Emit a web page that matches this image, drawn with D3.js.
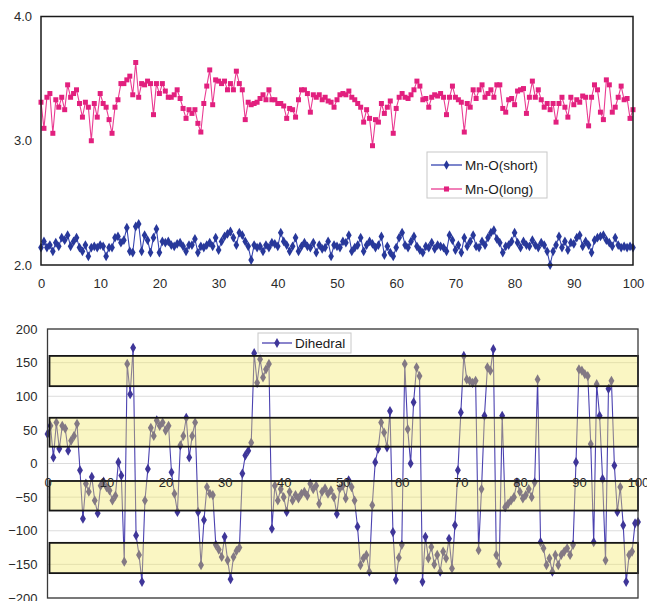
<!DOCTYPE html>
<html>
<head>
<meta charset="utf-8">
<script src="https://cdn.jsdelivr.net/npm/d3@7"></script>
<style>
  html, body { margin: 0; padding: 0; background: #fff; }
  svg { display: block; }
  text { font-family: "Liberation Sans", Arial, sans-serif; }
</style>
</head>
<body>
<svg id="chart" width="647" height="601"></svg>
<script>
// ---------------- data ----------------
const xTicks = [0, 10, 20, 30, 40, 50, 60, 70, 80, 90, 100];
const topYTicks = [2.0, 3.0, 4.0];
const botYTicks = [-200, -150, -100, -50, 0, 50, 100, 150, 200];
const seriesNames = ["Mn-O(short)", "Mn-O(long)"];
const dihedralName = "Dihedral";

const mnoShort = [
  2.14,2.19,2.14,2.16,2.11,2.18,2.15,2.22,2.20,2.24,
  2.15,2.19,2.22,2.14,2.11,2.16,2.07,2.14,2.15,2.14,
  2.16,2.15,2.07,2.14,2.14,2.22,2.23,2.18,2.20,2.30,
  2.11,2.10,2.31,2.33,2.11,2.24,2.20,2.10,2.22,2.29,
  2.10,2.19,2.18,2.19,2.16,2.15,2.17,2.18,2.15,2.11,
  2.16,2.16,2.21,2.10,2.15,2.14,2.16,2.18,2.15,2.22,
  2.12,2.19,2.23,2.25,2.27,2.22,2.16,2.26,2.24,2.19,
  2.15,2.04,2.16,2.14,2.15,2.11,2.16,2.14,2.18,2.17,
  2.15,2.26,2.19,2.16,2.11,2.15,2.22,2.11,2.15,2.18,
  2.15,2.14,2.18,2.10,2.16,2.13,2.14,2.19,2.07,2.16,
  2.15,2.14,
  2.19,2.18,2.24,2.11,2.14,2.16,2.22,2.11,2.16,2.19,2.17,
  2.14,2.16,2.23,2.08,2.15,2.10,2.07,2.14,2.22,2.26,
  2.16,2.14,2.19,2.23,2.15,2.12,2.10,2.15,2.14,2.18,2.13,
  2.16,2.15,2.14,2.11,2.24,2.20,2.12,2.16,2.10,2.22,
  2.15,2.19,2.24,2.15,2.14,2.19,2.16,2.22,2.26,2.28,2.21,
  2.18,2.10,2.15,2.16,2.19,2.26,2.18,2.14,2.19,2.16,
  2.15,2.20,2.16,2.14,2.18,2.16,2.11,2.00,2.11,2.16,
  2.23,2.14,2.19,2.12,2.18,2.17,
  2.22,2.24,2.15,2.19,2.16,2.10,2.20,2.22,2.23,2.24,2.20,
  2.18,2.15,2.22,2.16,2.14,2.15,
  2.14,2.15,2.14
];

const mnoLong = [
  3.31,3.10,3.35,3.38,3.06,3.33,3.27,3.35,3.25,3.45,
  3.35,3.38,3.41,3.30,3.19,3.31,3.27,3.00,3.30,3.19,
  3.38,3.30,3.27,3.17,3.06,3.27,3.33,3.46,3.46,3.49,
  3.52,3.37,3.63,3.35,3.46,3.45,3.48,3.46,3.21,3.46,
  3.38,3.46,3.40,3.35,3.35,3.37,3.41,3.34,3.26,3.18,
  3.25,3.22,3.25,3.14,3.07,3.30,3.44,3.57,3.29,3.49,
  3.48,3.46,3.48,3.41,3.46,3.41,3.56,3.46,3.41,3.17,
  3.31,3.29,3.30,3.31,3.34,3.37,3.33,3.41,3.33,3.33,
  3.30,3.30,3.28,3.18,3.26,3.25,3.19,3.33,3.41,3.41,
  3.38,3.23,3.37,3.35,3.37,3.33,3.35,3.32,3.31,3.27,
  3.33,3.37,
  3.38,3.37,3.40,3.35,3.33,3.30,3.27,3.15,3.25,3.18,
  2.96,3.17,3.15,3.30,3.22,3.27,3.32,3.06,3.26,3.35,
  3.38,3.35,3.34,3.37,3.41,3.48,3.44,3.33,3.34,3.27,
  3.35,3.37,3.36,3.38,3.35,3.21,3.35,3.44,3.35,3.33,
  3.31,3.07,3.30,3.27,3.41,3.34,3.41,3.45,3.35,3.38,
  3.41,3.35,3.45,3.45,3.26,3.23,3.33,3.34,3.29,3.40,
  3.41,3.42,3.22,3.35,3.48,3.35,3.41,3.33,3.27,3.30,
  3.25,3.30,3.15,3.30,3.35,3.27,3.19,3.35,3.29,3.33,
  3.31,3.36,3.35,3.12,3.35,3.45,3.41,3.23,3.17,3.49,
  3.45,3.23,3.27,3.35,3.44,3.33,3.34,3.18,3.25
];

const dihedral = [
  44,56,9,61,22,56,52,19,34,41,59,-10,
  -82,-30,-42,-20,-55,-74,-33,-27,-35,-40,-55,-48,
  2,-18,-146,148,103,172,-107,-136,-176,-55,-8,53,
  41,64,56,61,49,56,-13,-45,-72,27,41,68,9,41,61,
  -72,-151,-84,-35,-45,-47,-121,-128,-139,-109,-144,-172,-139,-130,-125,
  -15,12,19,31,164,120,155,128,140,148,-97,
  -33,-55,-38,-50,-72,-42,-55,-47,-52,-45,-42,-48,-30,-38,
  -33,-60,-42,-37,-45,-40,-50,-75,-37,-33,-52,-25,-35,-55,
  -94,-151,-141,-136,-161,-62,2,22,61,46,24,78,-102,-173,-140,-121,
  148,51,0,91,143,130,-176,-109,-141,-124,
  -150,-136,-161,-131,-141,-112,-156,-92,-10,76,160,125,123,120,123,
  -129,-38,71,143,138,170,-136,-149,71,
  -65,-60,-55,-50,-28,-42,-52,-47,-38,-50,-28,
  125,-117,-126,-151,-141,-161,-136,-151,-136,-131,-126,-136,-121,
  2,140,138,133,130,29,-117,118,71,-23,-144,111,123,-3,-72,-35,-92,
  -176,-136,-131,-89,-87
];

const bandRanges = [[115, 160], [25, 68], [-70, -26], [-163, -118]];

// ---------------- drawing ----------------
const svg = d3.select("#chart");
const toPts = arr => arr.map((v, i) => ({ x: i * 100 / (arr.length - 1), y: v }));

const fontSize = 13;
const labelColor = "#2a2a2a";

// ===== Top chart =====
const tx = d3.scaleLinear().domain([0, 100]).range([41, 633]);
const ty = d3.scaleLinear().domain([2, 4]).range([265, 16.5]);
const topG = svg.append("g");

const topColors = { short: "#28389a", shortLine: "#3545b0", long: "#e2207e", longLine: "#ea3c92" };

function drawSeries(g, xs, ys, data, lineColor, markColor, symbol, size) {
  const pts = toPts(data);
  const line = d3.line().x(d => xs(d.x)).y(d => ys(d.y));
  g.append("path").datum(pts).attr("d", line)
    .attr("fill", "none").attr("stroke", lineColor).attr("stroke-width", 1.1);
  g.append("g").selectAll("path").data(pts).join("path")
    .attr("d", d3.symbol().type(symbol).size(size))
    .attr("transform", d => `translate(${xs(d.x)},${ys(d.y)})`)
    .attr("fill", markColor);
}

drawSeries(topG, tx, ty, mnoLong, topColors.longLine, topColors.long, d3.symbolSquare, 25);
drawSeries(topG, tx, ty, mnoShort, topColors.shortLine, topColors.short, d3.symbolDiamond, 28);

topG.append("rect")
  .attr("x", tx(0)).attr("y", ty(4))
  .attr("width", tx(100) - tx(0)).attr("height", ty(2) - ty(4))
  .attr("fill", "none").attr("stroke", "#1a1a1a").attr("stroke-width", 1.5);

const topYAxis = topG.append("g").attr("transform", `translate(${tx(0)},0)`)
  .call(d3.axisLeft(ty).tickValues(topYTicks).tickFormat(d3.format(".1f")).tickSize(0).tickPadding(9));
const topXAxis = topG.append("g").attr("transform", `translate(0,${ty(2)})`)
  .call(d3.axisBottom(tx).tickValues(xTicks).tickFormat(d3.format("d")).tickSize(0).tickPadding(14));
[topYAxis, topXAxis].forEach(a => {
  a.select(".domain").remove();
  a.selectAll("text").attr("font-size", fontSize).attr("fill", labelColor)
    .attr("font-family", "Liberation Sans, Arial, sans-serif");
});

// top legend
const lg = topG.append("g");
lg.append("rect").attr("x", 427).attr("y", 152).attr("width", 120).attr("height", 46)
  .attr("fill", "#fff").attr("stroke", "#c8c8c8").attr("stroke-width", 1);
const legItems = [
  { name: seriesNames[0], line: topColors.shortLine, mark: topColors.short, sym: d3.symbolDiamond, y: 165 },
  { name: seriesNames[1], line: topColors.longLine, mark: topColors.long, sym: d3.symbolSquare, y: 189 }
];
legItems.forEach(it => {
  lg.append("line").attr("x1", 431).attr("x2", 462).attr("y1", it.y).attr("y2", it.y)
    .attr("stroke", it.line).attr("stroke-width", 1.3);
  lg.append("path").attr("d", d3.symbol().type(it.sym).size(26)())
    .attr("transform", `translate(446.5,${it.y})`).attr("fill", it.mark);
  lg.append("text").attr("x", 465).attr("y", it.y + 5).attr("font-size", 13.5)
    .attr("fill", "#1a1a1a").text(it.name);
});

// ===== Bottom chart =====
const bx = d3.scaleLinear().domain([0, 100]).range([47.5, 638]);
const by = d3.scaleLinear().domain([-200, 200]).range([598, 329]);
const botG = svg.append("g");

botG.append("g").selectAll("line").data(botYTicks).join("line")
  .attr("x1", bx(0)).attr("x2", bx(100)).attr("y1", d => by(d)).attr("y2", d => by(d))
  .attr("stroke", "#dcdcdc").attr("stroke-width", 1);

drawSeries(botG, bx, by, dihedral, "#4b42b0", "#3f3699", d3.symbolDiamond, 30);

// bands on top (semi-transparent)
botG.append("g").selectAll("rect").data(bandRanges).join("rect")
  .attr("x", bx(0) + 2).attr("width", bx(100) - bx(0) - 2)
  .attr("y", d => by(d[1])).attr("height", d => by(d[0]) - by(d[1]))
  .attr("fill", "#f2e860").attr("fill-opacity", 0.38)
  .attr("stroke", "#151515").attr("stroke-width", 1.8);

botG.append("rect")
  .attr("x", bx(0)).attr("y", by(200))
  .attr("width", bx(100) - bx(0)).attr("height", by(-200) - by(200))
  .attr("fill", "none").attr("stroke", "#3a3a3a").attr("stroke-width", 1.3);

const botYAxis = botG.append("g").attr("transform", `translate(${bx(0)},0)`)
  .call(d3.axisLeft(by).tickValues(botYTicks).tickFormat(d3.format("d")).tickSize(0).tickPadding(10));
const botXAxis = botG.append("g").attr("transform", `translate(0,${by(0)})`)
  .call(d3.axisBottom(bx).tickValues(xTicks).tickFormat(d3.format("d")).tickSize(0).tickPadding(14));
[botYAxis, botXAxis].forEach(a => {
  a.select(".domain").remove();
  a.selectAll("text").attr("font-size", fontSize).attr("fill", labelColor)
    .attr("font-family", "Liberation Sans, Arial, sans-serif");
});

// bottom legend
const bl = botG.append("g");
bl.append("rect").attr("x", 258).attr("y", 333).attr("width", 93).attr("height", 20)
  .attr("fill", "#fff").attr("stroke", "#c8c8c8").attr("stroke-width", 1);
bl.append("line").attr("x1", 262).attr("x2", 292).attr("y1", 343).attr("y2", 343)
  .attr("stroke", "#4b42b0").attr("stroke-width", 1.3);
bl.append("path").attr("d", d3.symbol().type(d3.symbolDiamond).size(28)())
  .attr("transform", "translate(277,343)").attr("fill", "#3f3699");
bl.append("text").attr("x", 295).attr("y", 348).attr("font-size", 13.5)
  .attr("fill", "#1a1a1a").text(dihedralName);
</script>
</body>
</html>
